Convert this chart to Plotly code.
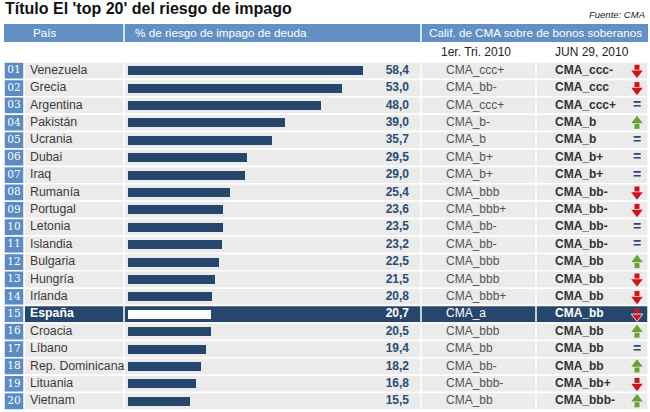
import plotly.graph_objects as go

countries = ["Venezuela", "Grecia", "Argentina", "Pakistán", "Ucrania", "Dubai", "Iraq",
             "Rumanía", "Portugal", "Letonia", "Islandia", "Bulgaria", "Hungría", "Irlanda",
             "España", "Croacia", "Líbano", "Rep. Dominicana", "Lituania", "Vietnam"]
risk = [58.4, 53.0, 48.0, 39.0, 35.7, 29.5, 29.0, 25.4, 23.6, 23.5, 23.2, 22.5, 21.5, 20.8,
        20.7, 20.5, 19.4, 18.2, 16.8, 15.5]
rating_q1 = ["CMA_ccc+", "CMA_bb-", "CMA_ccc+", "CMA_b-", "CMA_b", "CMA_b+", "CMA_b+",
             "CMA_bbb", "CMA_bbb+", "CMA_bb-", "CMA_bb-", "CMA_bbb", "CMA_bbb", "CMA_bbb+",
             "CMA_a", "CMA_bbb", "CMA_bb", "CMA_bb-", "CMA_bbb-", "CMA_bb"]
rating_jun = ["CMA_ccc-", "CMA_ccc", "CMA_ccc+", "CMA_b", "CMA_b", "CMA_b+", "CMA_b+",
              "CMA_bb-", "CMA_bb-", "CMA_bb-", "CMA_bb-", "CMA_bb", "CMA_bb", "CMA_bb",
              "CMA_bb", "CMA_bb", "CMA_bb", "CMA_bb", "CMA_bb+", "CMA_bbb-"]
trend = ["down", "down", "eq", "up", "eq", "eq", "eq", "down", "down", "eq", "eq", "up",
         "down", "down", "down", "up", "eq", "up", "down", "up"]
highlight = "España"

title = "Título El 'top 20' del riesgo de impago"
source = "Fuente: CMA"
col_headers = ["País", "% de riesgo de impago de deuda", "Calif. de CMA sobre de bonos soberanos"]
sub_headers = ["1er. Tri. 2010", "JUN 29, 2010"]

W, H = 650, 412
ROW_TOP, ROW_BOT = 62, 410
HEADER_BLUE = "#6390c4"
BOX_BLUE = "#5a8bc2"
ROW_BG = "#ebebeb"
NAVY = "#27466b"
VAL_COL = "#2c4c72"
RED = "#d0121b"
GREEN = "#67a331"
FONT = "Liberation Sans, Arial, sans-serif"

n = len(countries)
idx = list(range(n))
is_hl = [c == highlight for c in countries]

def py(px):
    return 1 - px / H

fig = go.Figure()

# bars
bar_colors = ["white" if h else NAVY for h in is_hl]
fig.add_trace(go.Bar(
    x=risk, y=idx, orientation="h", xaxis="x2", yaxis="y",
    marker=dict(color=bar_colors, line=dict(width=0)), width=0.52,
    hoverinfo="skip", showlegend=False))

# number boxes labels
fig.add_trace(go.Scatter(
    x=[14] * n, y=idx, mode="text", text=[f"{i + 1:02d}" for i in idx],
    textfont=dict(family="DejaVu Serif, Liberation Serif, serif", size=10.5, color="white"),
    textposition="middle center", hoverinfo="skip", showlegend=False))

# country names
fig.add_trace(go.Scatter(
    x=[30] * n, y=idx, mode="text",
    text=[f"<b>{c}</b>" if h else c for c, h in zip(countries, is_hl)],
    textfont=dict(family=FONT, size=12.3, color=["white" if h else "#3a3a3a" for h in is_hl]),
    textposition="middle right", hoverinfo="skip", showlegend=False))

# values
fig.add_trace(go.Scatter(
    x=[409] * n, y=idx, mode="text",
    text=["<b>" + f"{v:.1f}".replace(".", ",") + "</b>" for v in risk],
    textfont=dict(family=FONT, size=12, color=["white" if h else VAL_COL for h in is_hl]),
    textposition="middle left", hoverinfo="skip", showlegend=False))

# rating Q1
fig.add_trace(go.Scatter(
    x=[446] * n, y=idx, mode="text", text=rating_q1,
    textfont=dict(family=FONT, size=12, color=["white" if h else "#555555" for h in is_hl]),
    textposition="middle right", hoverinfo="skip", showlegend=False))

# rating Jun
fig.add_trace(go.Scatter(
    x=[555] * n, y=idx, mode="text", text=[f"<b>{r}</b>" for r in rating_jun],
    textfont=dict(family=FONT, size=12, color=["white" if h else "#333333" for h in is_hl]),
    textposition="middle right", hoverinfo="skip", showlegend=False))

# trend: equal signs
eq_y = [i for i, t in zip(idx, trend) if t == "eq"]
fig.add_trace(go.Scatter(
    x=[637] * len(eq_y), y=eq_y, mode="text", text=["<b>=</b>"] * len(eq_y),
    textfont=dict(family=FONT, size=14, color=VAL_COL),
    textposition="middle center", hoverinfo="skip", showlegend=False))

# trend: arrows (head + shaft)
HEAD_OFF, SHAFT_OFF = 0.13, 0.2
for kind, col, head_sym, sign in [("down", RED, "triangle-down", 1), ("up", GREEN, "triangle-up", -1)]:
    ys = [i for i, t in zip(idx, trend) if t == kind]
    outline = ["white" if is_hl[i] else col for i in ys]
    fig.add_trace(go.Scatter(
        x=[637] * len(ys), y=[i - sign * SHAFT_OFF for i in ys], mode="markers",
        marker=dict(symbol="square", size=5, color=col, line=dict(width=0)),
        hoverinfo="skip", showlegend=False))
    fig.add_trace(go.Scatter(
        x=[637] * len(ys), y=[i + sign * HEAD_OFF for i in ys], mode="markers",
        marker=dict(symbol=head_sym, size=10, color=col,
                    line=dict(width=[0.8 if is_hl[i] else 0 for i in ys], color=outline)),
        hoverinfo="skip", showlegend=False))

shapes = []
# row backgrounds
for i, h in zip(idx, is_hl):
    shapes.append(dict(type="rect", xref="x", yref="y", x0=24, x1=648, y0=i - 0.5, y1=i + 0.5,
                       fillcolor=NAVY if h else ROW_BG, line=dict(color="white", width=1.5),
                       layer="below"))
    shapes.append(dict(type="rect", xref="x", yref="y", x0=4, x1=24, y0=i - 0.5, y1=i + 0.5,
                       fillcolor=BOX_BLUE, line=dict(color="white", width=1.5), layer="below"))
# vertical separators in rows
for xs in [124, 421, 536]:
    shapes.append(dict(type="line", xref="x", yref="y", x0=xs, x1=xs, y0=-0.5, y1=n - 0.5,
                       line=dict(color="white", width=1.5), layer="below"))
# header bar
shapes.append(dict(type="rect", xref="x", yref="paper", x0=4, x1=648, y0=py(42), y1=py(24),
                   fillcolor=HEADER_BLUE, line=dict(width=0), layer="below"))
for xs in [124, 421]:
    shapes.append(dict(type="line", xref="x", yref="paper", x0=xs, x1=xs, y0=py(42), y1=py(24),
                       line=dict(color="white", width=1.5), layer="below"))

annotations = [
    dict(text=f"<b>{title}</b>", x=3, y=py(9), xref="x", yref="paper", xanchor="left",
         yanchor="middle", showarrow=False, font=dict(family=FONT, size=16, color="#111111")),
    dict(text=f"<i>{source}</i>", x=647, y=py(15), xref="x", yref="paper", xanchor="right",
         yanchor="middle", showarrow=False, font=dict(family=FONT, size=9.5, color="#222222")),
    dict(text=col_headers[0], x=31, y=py(33), xref="x", yref="paper", xanchor="left",
         yanchor="middle", showarrow=False, font=dict(family=FONT, size=11.7, color="white")),
    dict(text=col_headers[1], x=133, y=py(33), xref="x", yref="paper", xanchor="left",
         yanchor="middle", showarrow=False, font=dict(family=FONT, size=11.7, color="white")),
    dict(text=col_headers[2], x=427, y=py(33), xref="x", yref="paper", xanchor="left",
         yanchor="middle", showarrow=False, font=dict(family=FONT, size=11.7, color="white")),
    dict(text=sub_headers[0], x=476, y=py(52), xref="x", yref="paper", xanchor="center",
         yanchor="middle", showarrow=False, font=dict(family=FONT, size=12, color="#222222")),
    dict(text=sub_headers[1], x=592, y=py(52), xref="x", yref="paper", xanchor="center",
         yanchor="middle", showarrow=False, font=dict(family=FONT, size=12, color="#222222")),
]

fig.update_layout(
    width=W, height=H, margin=dict(l=0, r=0, t=0, b=0),
    paper_bgcolor="white", plot_bgcolor="rgba(0,0,0,0)",
    xaxis=dict(domain=[0, 1], range=[0, W], visible=False, fixedrange=True),
    xaxis2=dict(domain=[128 / W, (128 + 4.03 * 60) / W], range=[0, 60], anchor="y",
                visible=False, fixedrange=True),
    yaxis=dict(domain=[py(ROW_BOT), py(ROW_TOP)], range=[n - 0.5, -0.5], visible=False,
               fixedrange=True),
    shapes=shapes, annotations=annotations, bargap=0, showlegend=False,
)

fig.write_html("out.html", config={"displayModeBar": False},
               post_script="document.body.style.margin='0';document.body.style.overflow='hidden';")
